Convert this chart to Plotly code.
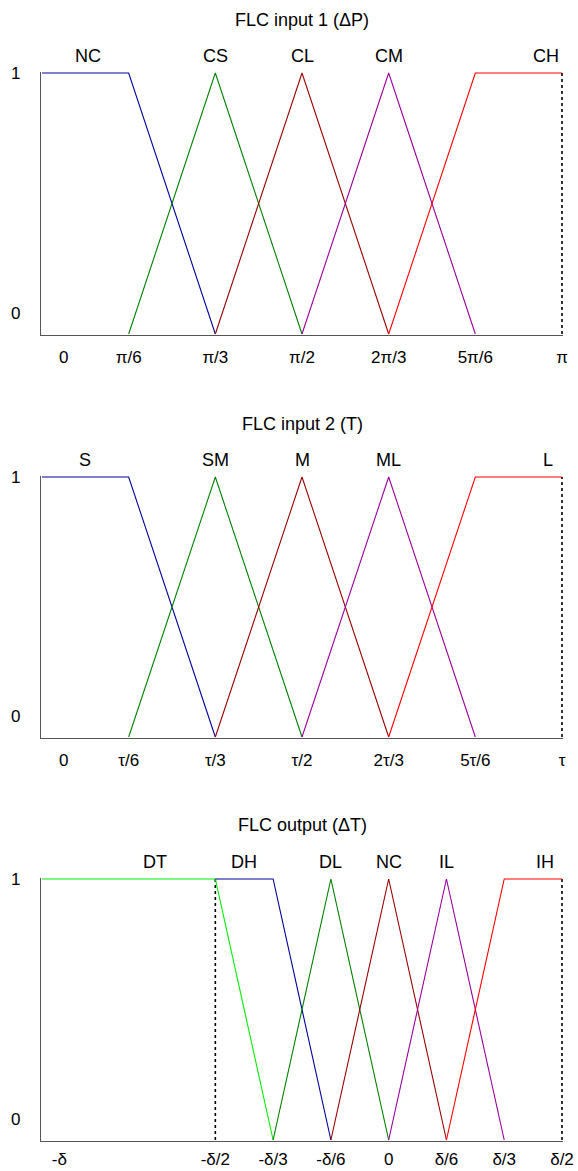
import plotly.graph_objects as go

# ---------------- data ----------------
# Panel 1: FLC input 1 (ΔP), x in units of π/6
p1_names = ["NC", "CS", "CL", "CM", "CH"]
p1_x = [[0, 1, 2], [1, 2, 3], [2, 3, 4], [3, 4, 5], [4, 5, 6]]
p1_y = [[1, 1, 0], [0, 1, 0], [0, 1, 0], [0, 1, 0], [0, 1, 1]]
p1_label_x = [0.53, 2, 3, 4, 5.82]
p1_tickvals = [0.25, 1, 2, 3, 4, 5, 6]
p1_ticktext = ["0", "π/6", "π/3", "π/2", "2π/3", "5π/6", "π"]

# Panel 2: FLC input 2 (T), x in units of τ/6
p2_names = ["S", "SM", "M", "ML", "L"]
p2_x = [[0, 1, 2], [1, 2, 3], [2, 3, 4], [3, 4, 5], [4, 5, 6]]
p2_y = [[1, 1, 0], [0, 1, 0], [0, 1, 0], [0, 1, 0], [0, 1, 1]]
p2_label_x = [0.5, 2, 3, 4, 5.84]
p2_tickvals = [0.25, 1, 2, 3, 4, 5, 6]
p2_ticktext = ["0", "τ/6", "τ/3", "τ/2", "2τ/3", "5τ/6", "τ"]

# Panel 3: FLC output (ΔT), x in units of δ/6
p3_names = ["DT", "DH", "DL", "NC", "IL", "IH"]
p3_x = [[-6, -3, -2], [-3, -2, -1], [-2, -1, 0], [-1, 0, 1], [0, 1, 2], [1, 2, 3]]
p3_y = [[1, 1, 0], [1, 1, 0], [0, 1, 0], [0, 1, 0], [0, 1, 0], [0, 1, 1]]
p3_label_x = [-4.05, -2.5, -1, 0, 1, 2.7]
p3_tickvals = [-5.7, -3, -2, -1, 0, 1, 2, 3]
p3_ticktext = ["-δ", "-δ/2", "-δ/3", "-δ/6", "0", "δ/6", "δ/3", "δ/2"]
p3_dotted_x = [-3, 3]

y_tickvals = [0.08, 1]
y_ticktext = ["0", "1"]

titles = ["FLC input 1 (ΔP)", "FLC input 2 (T)", "FLC output (ΔT)"]

colors5 = ["#000099", "#008000", "#990000", "#990099", "#ff0000"]
colors6 = ["#00ee00", "#000099", "#008000", "#990000", "#990099", "#ff0000"]

# ---------------- figure ----------------
W, H = 578, 1171
FONT = "Liberation Sans, Arial, sans-serif"

fig = go.Figure()

panels = [
    dict(names=p1_names, xs=p1_x, ys=p1_y, lx=p1_label_x, tv=p1_tickvals, tt=p1_ticktext,
         colors=colors5, xr=[0, 6], dotted=[6], top=73, bot=334, ty=20, tl=6),
    dict(names=p2_names, xs=p2_x, ys=p2_y, lx=p2_label_x, tv=p2_tickvals, tt=p2_ticktext,
         colors=colors5, xr=[0, 6], dotted=[6], top=477, bot=737, ty=424, tl=6),
    dict(names=p3_names, xs=p3_x, ys=p3_y, lx=p3_label_x, tv=p3_tickvals, tt=p3_ticktext,
         colors=colors6, xr=[-6, 3], dotted=p3_dotted_x, top=879, bot=1140, ty=825, tl=2),
]

x0px, x1px = 42.0, 562.0
pad = 0.004
for i, p in enumerate(panels):
    k = "" if i == 0 else str(i + 1)
    xa, ya = "x" + k, "y" + k
    for dx in p["dotted"]:
        fig.add_trace(go.Scatter(x=[dx, dx], y=[0, 1], mode="lines", xaxis=xa, yaxis=ya,
                                 line=dict(color="black", width=1.6, dash="dot"),
                                 showlegend=False, hoverinfo="skip"))
    for name, xs, ys, c in zip(p["names"], p["xs"], p["ys"], p["colors"]):
        fig.add_trace(go.Scatter(x=xs, y=ys, mode="lines", name=name, xaxis=xa, yaxis=ya,
                                 line=dict(color=c, width=1.1), showlegend=False))
    for name, lx in zip(p["names"], p["lx"]):
        fig.add_annotation(x=lx, y=1, xref=xa, yref=ya, text=name, showarrow=False,
                           yshift=17, font=dict(family=FONT, size=18, color="black"))
    fig.add_annotation(x=0.5, xref=xa + " domain", y=1 - p["ty"] / H, yref="paper",
                       xanchor="center", yanchor="middle",
                       text=titles[i], showarrow=False,
                       font=dict(family=FONT, size=18, color="black"))
    xspan = p["xr"][1] - p["xr"][0]
    xpad = 1.0 / (x1px - x0px) * xspan
    ph = p["bot"] - p["top"]
    ytop = p["top"] - pad * ph
    ybot = p["bot"] + pad * ph
    fig.layout["xaxis" + k] = dict(
        domain=[(x0px - 1) / W, (x1px + 1) / W],
        range=[p["xr"][0] - xpad, p["xr"][1] + xpad], anchor=ya,
        tickvals=p["tv"], ticktext=p["tt"], ticks="outside", ticklen=p["tl"],
        tickcolor="rgba(0,0,0,0)", showgrid=False, zeroline=False,
        showline=True, linecolor="#555555", linewidth=1.2,
        automargin=False, ticklabeloverflow="allow",
        tickfont=dict(family=FONT, size=17, color="black"), fixedrange=True)
    fig.layout["yaxis" + k] = dict(
        domain=[1 - ybot / H, 1 - ytop / H], range=[-pad, 1 + pad], anchor=xa,
        tickvals=y_tickvals, ticktext=y_ticktext, ticks="outside", ticklen=16,
        tickcolor="rgba(0,0,0,0)", showgrid=False, zeroline=False,
        showline=True, linecolor="#555555", linewidth=1.2,
        automargin=False, ticklabeloverflow="allow",
        tickfont=dict(family=FONT, size=17, color="black"), fixedrange=True)

fig.update_layout(width=W, height=H, margin=dict(l=0, r=0, t=0, b=0),
                  paper_bgcolor="white", plot_bgcolor="white", showlegend=False)

fig.write_html("out.html")
